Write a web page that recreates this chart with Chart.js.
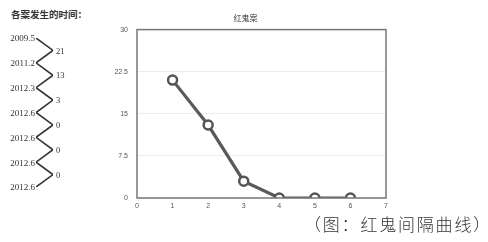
<!DOCTYPE html>
<html>
<head>
<meta charset="utf-8">
<script src="https://cdn.jsdelivr.net/npm/chart.js@4.4.1/dist/chart.umd.min.js"></script>
<style>
  html, body { margin: 0; padding: 0; background: #fff; }
  #wrap { position: relative; width: 488px; height: 242px; overflow: hidden; }
  #head { position: absolute; left: 11px; top: 7px; font: bold 9.5px "Noto Sans CJK SC", sans-serif; color: #333; }
  #zig { position: absolute; left: 0; top: 0; }
  #main { position: absolute; left: 105px; top: 0; }
  #caption { position: absolute; left: 304px; top: 211px; font: 300 17px "Noto Sans CJK SC", sans-serif; color: #333; white-space: nowrap; letter-spacing: 1.8px; }
</style>
</head>
<body>
<div id="wrap">
  <div id="head">各案发生的时间：</div>
  <canvas id="zig" width="120" height="242"></canvas>
  <canvas id="main" width="300" height="242"></canvas>
  <div id="caption">（图：红鬼间隔曲线）</div>
</div>
<script>
// 各案时间与间隔
const caseDates = ['2009.5', '2011.2', '2012.3', '2012.6', '2012.6', '2012.6', '2012.6'];
const intervals = [21, 13, 3, 0, 0, 0];
const caseNumbers = [1, 2, 3, 4, 5, 6];
const chartTitle = '红鬼案';
const yTicks = [0, 7.5, 15, 22.5, 30];

document.addEventListener('DOMContentLoaded', function () {

    // 左侧锯齿图：日期在左顶点，间隔在右顶点
    const zigPoints = [];
    caseDates.forEach(function (d, i) {
        zigPoints.push({ x: 0, y: i, label: d });
        if (i < intervals.length) {
            zigPoints.push({ x: 1, y: i + 0.5, label: String(intervals[i]) });
        }
    });

    const zigLabels = {
        id: 'zigLabels',
        afterDatasetsDraw(chart) {
            const ctx = chart.ctx;
            const meta = chart.getDatasetMeta(0);
            ctx.save();
            ctx.fillStyle = '#333';
            ctx.textBaseline = 'middle';
            meta.data.forEach(function (pt, i) {
                const p = zigPoints[i];
                if (p.x === 0) {
                    ctx.font = '9px "Liberation Serif", serif';
                    ctx.textAlign = 'right';
                    ctx.fillText(p.label, pt.x - 1, pt.y + 1);
                } else {
                    ctx.font = '8.5px "Liberation Serif", serif';
                    ctx.textAlign = 'left';
                    ctx.fillText(p.label, pt.x + 3, pt.y + 1);
                }
            });
            ctx.restore();
        }
    };

    new Chart(document.getElementById('zig'), {
        type: 'scatter',
        data: {
            datasets: [{
                data: zigPoints,
                showLine: true,
                borderColor: '#333',
                borderWidth: 1.6,
                pointRadius: 0
            }]
        },
        options: {
            responsive: false,
            animation: false,
            layout: { padding: { left: 36, right: 67, top: 38, bottom: 55 } },
            plugins: { legend: { display: false }, tooltip: { enabled: false } },
            scales: {
                x: { type: 'linear', min: 0, max: 1, display: false },
                y: { type: 'linear', min: 0, max: caseDates.length - 1, reverse: true, display: false }
            }
        },
        plugins: [zigLabels]
    });

    // 外框
    const frameBox = {
        id: 'frameBox',
        afterDraw(chart) {
            const a = chart.chartArea;
            const ctx = chart.ctx;
            ctx.save();
            ctx.strokeStyle = '#777';
            ctx.lineWidth = 1.5;
            ctx.strokeRect(a.left, a.top, a.right - a.left, a.bottom - a.top);
            ctx.restore();
        }
    };

    new Chart(document.getElementById('main'), {
        type: 'scatter',
        data: {
            datasets: [{
                data: caseNumbers.map(function (n, i) { return { x: n, y: intervals[i] }; }),
                showLine: true,
                borderColor: '#5a5a5a',
                borderWidth: 3.2,
                pointRadius: 4.5,
                pointBorderWidth: 2.5,
                pointBackgroundColor: '#fff',
                pointBorderColor: '#555'
            }]
        },
        options: {
            responsive: false,
            animation: false,
            layout: { padding: { left: 0, right: 19, top: 0, bottom: 0 } },
            plugins: {
                legend: { display: false },
                tooltip: { enabled: false },
                title: {
                    display: true,
                    text: chartTitle,
                    color: '#333',
                    font: { size: 8, family: '"Noto Sans CJK SC", sans-serif', weight: 'normal' },
                    padding: { top: 13, bottom: 7 }
                }
            },
            scales: {
                x: {
                    type: 'linear', min: 0, max: 7,
                    afterFit: function (s) { s.height = 44; },
                    grid: { display: false, drawTicks: false },
                    border: { display: false },
                    ticks: { stepSize: 1, padding: 4, color: '#555', font: { size: 7, family: 'Arial, sans-serif' } }
                },
                y: {
                    type: 'linear', min: 0, max: 30,
                    afterFit: function (s) { s.width = 32; },
                    afterBuildTicks: function (s) { s.ticks = yTicks.map(function (v) { return { value: v }; }); },
                    grid: { color: '#ececec', drawTicks: false },
                    border: { display: false },
                    ticks: { padding: 9, color: '#555', font: { size: 7, family: 'Arial, sans-serif' } }
                }
            }
        },
        plugins: [frameBox]
    });
});
</script>
</body>
</html>
